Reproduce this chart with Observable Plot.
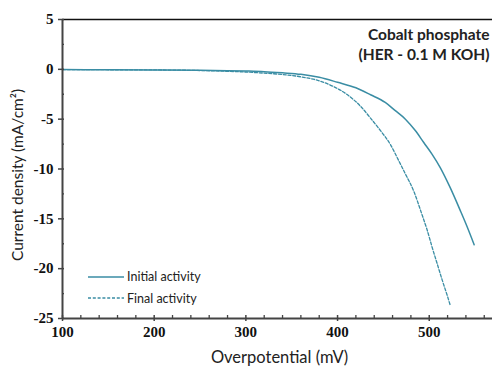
<!DOCTYPE html>
<html>
<head>
<meta charset="utf-8">
<script src="https://cdn.jsdelivr.net/npm/d3@7"></script>
<script src="https://cdn.jsdelivr.net/npm/@observablehq/plot@0.6"></script>
<style>
  html, body { margin: 0; padding: 0; background: #fff; }
  #chart { position: relative; width: 492px; height: 368px; }
  .legend { position: absolute; left: 88px; top: 266px; font-family: Lato, "Open Sans", sans-serif; font-size: 12.5px; color: #222; }
  .legend div { display: flex; align-items: center; height: 21.5px; }
  .legend svg { width: 36px; height: 6px; margin-right: 3px; }
</style>
</head>
<body>
<div id="chart"></div>
<script>
// Polarisation curves, cobalt phosphate, HER in 0.1 M KOH
const initialPotential = [100, 150, 200, 250, 280, 300, 320, 340, 360, 380, 400, 420, 436, 452, 463, 474, 485, 494, 503, 512, 523, 534, 540, 549];
const initialCurrent   = [-0.02, -0.04, -0.06, -0.09, -0.13, -0.17, -0.23, -0.35, -0.5, -0.8, -1.3, -1.85, -2.55, -3.32, -4.15, -5.0, -6.17, -7.34, -8.5, -9.86, -11.9, -14.2, -15.5, -17.6];

const finalPotential = [100, 150, 200, 250, 280, 300, 320, 340, 360, 380, 395, 410, 425, 436, 447, 458, 465, 474, 483, 492, 498, 503, 509, 514, 520, 523];
const finalCurrent   = [-0.02, -0.04, -0.06, -0.12, -0.2, -0.27, -0.38, -0.52, -0.75, -1.15, -1.7, -2.5, -3.7, -4.9, -6.17, -7.6, -8.85, -10.5, -12.2, -14.55, -16.2, -17.8, -19.6, -21.1, -22.8, -23.7];

const seriesNames = ["Initial activity", "Final activity"];
const xMajorTicks = [100, 200, 300, 400, 500];
const xMinorTicks = d3.range(100, 570, 20).filter(v => !xMajorTicks.includes(v));
const yMajorTicks = [5, 0, -5, -10, -15, -20, -25];
const yMinorTicks = [2.5, -2.5, -7.5, -12.5, -17.5, -22.5];
const titleLines = ["Cobalt phosphate", "(HER - 0.1 M KOH)"];

const lineColor = "#3a8da4";

const initial = initialPotential.map((x, i) => ({x, y: initialCurrent[i]}));
const final = finalPotential.map((x, i) => ({x, y: finalCurrent[i]}));

const W = 492, H = 368;
const mL = 62, mT = 19, mB = 50, mR = 0;
const frameW = W - mL - mR, frameH = H - mT - mB;
const tickFont = {fontFamily: "Liberation Serif", fontWeight: "bold", fontSize: 15, fill: "#111"};
const labelFont = "Lato, 'Open Sans', sans-serif";

const chart = Plot.plot({
  width: W,
  height: H,
  marginLeft: mL,
  marginTop: mT,
  marginBottom: mB,
  marginRight: mR,
  x: {domain: [100, 569], axis: null},
  y: {domain: [-25, 5], axis: null},
  marks: [
    // curves
    Plot.line(initial, {x: "x", y: "y", stroke: lineColor, strokeWidth: 1.5, curve: "monotone-x"}),
    Plot.line(final, {x: "x", y: "y", stroke: lineColor, strokeWidth: 1.3, strokeDasharray: "3,1.8", curve: "monotone-x"}),
    // frame lines
    Plot.ruleY([5], {stroke: "#111", strokeWidth: 1.5}),
    Plot.ruleX([100], {stroke: "#444", strokeWidth: 2}),
    Plot.ruleY([-25], {stroke: "#444", strokeWidth: 2}),
    // x ticks: major cross the axis, minor point inward
    Plot.tickX(xMajorTicks, {x: d => d, stroke: "#444", strokeWidth: 1.5, insetTop: frameH - 3, insetBottom: -3}),
    Plot.tickX(xMinorTicks, {x: d => d, stroke: "#444", strokeWidth: 1.3, insetTop: frameH - 3, insetBottom: 0}),
    // y ticks
    Plot.tickY(yMajorTicks, {y: d => d, stroke: "#444", strokeWidth: 1.5, insetLeft: -4, insetRight: frameW - 2}),
    Plot.tickY(yMinorTicks, {y: d => d, stroke: "#444", strokeWidth: 1.3, insetLeft: 0, insetRight: frameW - 2}),
    // tick labels
    Plot.text(xMajorTicks, {x: d => d, text: d => String(d), frameAnchor: "bottom", lineAnchor: "top", dy: 8, ...tickFont}),
    Plot.text(yMajorTicks, {y: d => d, text: d => String(d), frameAnchor: "left", textAnchor: "end", dx: -9, ...tickFont}),
    // axis titles
    Plot.text(["Overpotential (mV)"], {frameAnchor: "bottom", lineAnchor: "bottom", dx: 2, dy: 44, fontFamily: labelFont, fontSize: 16.5, fill: "#222"}),
    Plot.text(["Current density (mA/cm²)"], {frameAnchor: "left", textAnchor: "middle", rotate: -90, dx: -44, dy: 6, fontFamily: labelFont, fontSize: 15.5, fill: "#222"}),
    // title
    Plot.text([titleLines.join("\n")], {frameAnchor: "top-right", textAnchor: "end", lineAnchor: "top", dx: -3, dy: 7, lineHeight: 1.26, fontFamily: labelFont, fontWeight: "bold", fontSize: 15.5, fill: "#222"})
  ]
});

const root = document.getElementById("chart");
root.appendChild(chart);

// legend
const legend = document.createElement("div");
legend.className = "legend";
const dashes = [null, "3,1.8"];
seriesNames.forEach((name, i) => {
  const row = document.createElement("div");
  const svg = d3.create("svg").attr("viewBox", "0 0 36 6");
  svg.append("line").attr("x1", 0).attr("x2", 36).attr("y1", 3).attr("y2", 3)
    .attr("stroke", lineColor).attr("stroke-width", i ? 1.3 : 1.5)
    .attr("stroke-dasharray", dashes[i]);
  row.appendChild(svg.node());
  row.appendChild(document.createTextNode(name));
  legend.appendChild(row);
});
root.appendChild(legend);
</script>
</body>
</html>
